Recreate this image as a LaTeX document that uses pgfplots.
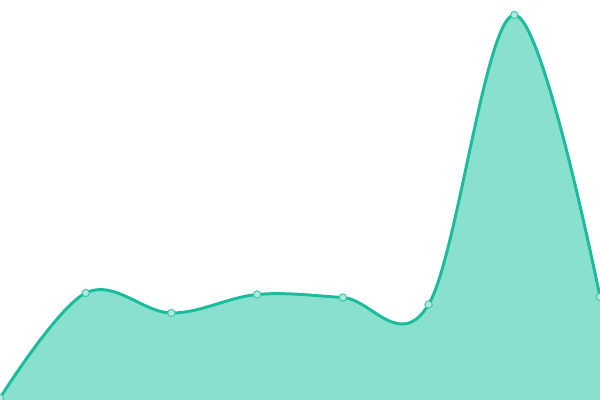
\documentclass[border=0pt]{standalone}
\usepackage{pgfplots}
\pgfplotsset{compat=1.18}
\definecolor{teal1}{HTML}{1ABC9C}
\definecolor{tealfill}{HTML}{8AE0CF}
\begin{document}
\begin{tikzpicture}
\begin{axis}[
    width=15cm, height=10cm,
    scale only axis,
    axis lines=none,
    xmin=0, xmax=7,
    ymin=0, ymax=400,
    clip=true,
]
\addplot[draw=none, fill=tealfill, smooth, tension=0.6] coordinates {
    (0,2) (1,107) (2,87) (3,105.5) (4,102.5) (5,95.5) (6,385) (7,103)
} \closedcycle;
\addplot[teal1, line width=2.1pt, smooth, tension=0.6,
    mark=*, mark size=2.6pt,
    mark options={fill=tealfill!70!white, draw=teal1!85!white, line width=0.7pt}] coordinates {
    (0,2) (1,107) (2,87) (3,105.5) (4,102.5) (5,95.5) (6,385) (7,103)
};
\end{axis}
\pgfresetboundingbox
\path[use as bounding box] (current axis.south west) rectangle (current axis.north east);
\end{tikzpicture}
\end{document}
